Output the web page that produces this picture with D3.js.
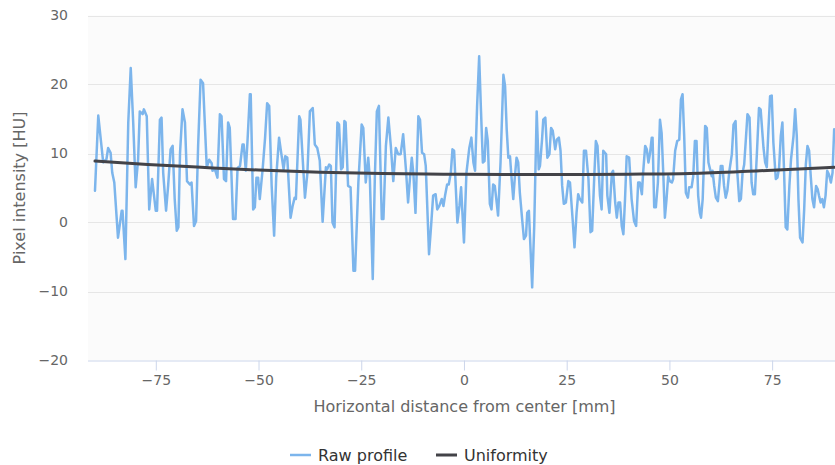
<!DOCTYPE html>
<html><head><meta charset="utf-8">
<script src="https://cdn.jsdelivr.net/npm/d3@7/dist/d3.min.js"></script>
<style>body{margin:0;background:#fff}svg{display:block}text{font-family:"DejaVu Sans",sans-serif}</style>
</head><body><svg id="c" width="835" height="465"></svg>
<script>
// Raw profile: horizontal position [mm] and pixel intensity [HU]
const profileX = [-89.8,-89.0,-87.8,-87.0,-86.6,-86.0,-85.6,-85.1,-84.2,-83.3,-83.1,-82.4,-81.7,-81.1,-80.5,-79.9,-79.3,-78.9,-78.2,-77.9,-77.2,-76.6,-75.9,-75.0,-74.7,-74.0,-73.6,-73.2,-72.5,-72.0,-71.4,-70.9,-70.4,-69.9,-69.5,-69.1,-68.5,-67.9,-67.4,-66.7,-66.3,-65.7,-65.2,-64.7,-64.1,-63.5,
-62.6,-62.0,-61.4,-61.2,-60.6,-60.0,-59.4,-59.0,-58.4,-57.9,-57.4,-57.0,-56.2,-55.6,-55.1,-54.5,-53.9,-53.6,-53.1,-52.7,-52.1,-51.9,-51.3,-50.9,-50.5,-50.1,-49.7,-49.0,-48.4,-47.9,-47.4,-46.8,-46.2,-45.7,-45.0,-44.6,-43.9,-43.5,-43.0,-42.2,-41.7,-41.2,-40.9,-40.1,-39.8,-38.7,-38.1,-37.5,-36.8,-36.3,-35.7,-35.1,
-34.4,-33.6,-33.3,-32.8,-32.4,-32.0,-31.5,-30.8,-30.4,-29.9,-29.5,-29.1,-28.8,-28.2,-27.6,-26.9,-26.5,-25.7,-24.9,-24.5,-23.9,-23.3,-22.9,-22.2,-21.7,-21.2,-20.7,-20.0,-19.6,-19.0,-18.4,-17.8,-17.2,-16.6,-16.0,-15.4,-14.8,-14.1,-13.6,-13.1,-12.7,-12.3,-11.8,-11.1,-10.7,-10.2,-9.7,-9.3,-8.5,-8.0,-7.5,-6.9,-6.5,-6.0,
-5.4,-5.0,-4.6,-4.1,-3.7,-3.2,-2.8,-2.4,-1.6,-1.1,-0.7,0.0,0.6,1.3,1.8,2.3,2.7,3.2,3.7,4.1,4.6,5.0,5.4,5.8,6.3,6.7,7.1,7.5,8.0,8.3,8.9,9.6,10.0,10.4,10.8,11.2,11.6,12.0,12.4,12.8,13.2,13.6,14.2,14.6,15.1,15.4,15.8,16.6,17.1,17.7,18.2,18.5,19.0,19.3,19.8,20.3,20.8,21.2,21.6,21.9,22.2,22.6,23.1,23.5,23.9,24.3,24.8,
25.4,25.8,26.5,26.9,27.4,27.8,28.2,28.8,29.2,29.7,30.3,30.8,31.2,31.7,32.1,32.5,33.1,33.5,33.9,34.6,34.9,35.4,36.0,36.3,36.8,37.2,37.6,38.0,38.4,38.8,39.2,39.6,40.2,40.8,41.4,41.9,42.4,42.8,43.3,43.6,44.1,44.5,44.9,45.3,45.7,45.9,46.3,46.7,47.2,47.7,48.1,48.5,48.9,49.3,49.7,50.1,50.6,50.9,51.4,51.9,52.4,52.8,53.2,53.6,54.0,54.5,54.8,55.4,55.8,56.2,56.6,57.0,57.4,
57.7,58.1,58.7,59.1,59.5,59.9,60.3,60.5,60.9,61.3,61.8,62.2,62.5,62.9,63.3,63.7,64.1,64.6,65.2,65.6,66.1,66.5,67.0,67.4,67.8,68.2,68.6,69.0,69.5,70.0,70.4,70.8,71.3,71.8,72.2,72.9,73.3,73.7,74.1,74.5,74.9,75.3,75.9,76.3,76.7,77.1,77.5,77.9,78.3,78.7,79.2,79.6,80.2,80.6,81.0,81.4,81.8,82.4,82.8,83.2,83.6,84.0,84.4,84.8,85.2,85.7,86.1,86.4,86.8,87.2,87.6,88.0,88.4,88.8,89.3,89.7,90.1];
const profileY = [4.6,15.5,8.7,9.2,10.8,10.1,7.2,5.8,-2.2,1.7,1.7,-5.3,14.5,22.4,14.5,5.1,9.2,16.1,15.7,16.4,15.4,1.9,6.3,1.7,1.7,14.9,15.2,7.2,1.7,5.3,10.6,11.1,3.4,-1.2,-0.7,10.1,16.4,14.5,6.0,5.5,5.8,-0.5,0.2,11.1,20.7,20.2,
8.0,9.1,8.6,7.5,7.7,6.5,15.7,15.4,6.3,6.0,14.5,13.7,0.5,0.5,7.9,8.2,11.3,11.3,7.5,11.6,18.6,18.6,1.9,2.2,6.5,6.5,3.4,7.7,12.3,17.3,16.9,5.3,-1.9,6.5,12.3,10.6,7.7,9.6,9.4,0.7,2.4,3.6,3.4,15.4,14.9,3.6,7.2,16.1,16.6,11.3,10.8,9.0,
0.1,8.0,7.7,8.4,8.2,0.0,-0.7,14.5,14.2,7.7,8.0,14.7,14.5,5.3,5.1,-7.0,-7.0,5.8,14.2,13.7,5.8,9.4,6.3,-8.2,6.3,16.1,16.9,0.5,0.5,11.1,15.2,11.1,6.0,10.8,9.9,9.9,12.8,7.5,2.9,6.7,9.4,7.0,1.4,15.4,14.9,10.1,9.9,8.2,-4.6,-0.5,3.9,4.1,1.9,2.4,
3.4,2.4,3.9,5.5,5.5,7.2,10.6,10.4,0.0,2.4,5.1,-2.9,7.2,10.8,12.3,8.7,7.5,16.9,24.1,16.9,8.7,8.9,13.7,11.8,2.7,1.9,5.5,5.3,2.7,1.0,8.7,21.4,19.8,13.5,9.4,9.6,6.3,3.4,6.7,9.4,8.7,4.3,0.2,-2.4,-1.9,1.4,1.7,-9.4,-0.5,16.1,7.7,8.2,12.0,14.9,15.2,9.4,9.9,13.7,13.3,12.0,10.6,12.0,12.3,10.4,5.3,2.7,2.9,
6.0,5.8,0.0,-3.6,1.4,4.1,3.4,2.9,10.4,10.4,6.3,-1.4,-1.2,6.5,11.8,11.1,3.9,1.9,10.4,9.9,3.9,1.4,7.2,7.5,2.9,0.7,2.9,2.9,-0.5,-1.7,3.4,9.6,9.4,3.4,0.2,-0.5,5.8,5.8,4.1,7.2,11.1,10.6,8.7,10.1,12.3,12.3,2.2,2.2,5.8,14.9,13.0,7.2,0.7,3.4,6.7,6.0,5.8,6.3,10.4,11.8,12.0,17.8,18.6,12.5,4.3,3.6,5.1,5.1,6.7,11.8,11.8,3.9,1.4,
0.7,3.4,14.0,13.7,8.7,7.7,6.7,7.5,5.3,3.6,3.1,5.8,8.2,8.2,5.3,3.6,4.6,7.5,9.9,14.2,14.7,7.5,3.1,3.4,7.2,8.4,12.0,15.7,15.2,5.8,4.1,4.1,10.1,16.6,16.4,10.8,8.7,8.0,13.5,18.3,18.4,11.6,6.3,6.5,8.0,12.5,14.5,7.5,-0.7,-1.0,5.3,9.2,12.5,16.4,12.5,3.4,-2.2,-2.9,1.9,8.4,11.1,10.4,6.7,3.4,2.2,5.3,4.8,3.9,2.9,3.4,2.2,3.9,7.5,7.0,5.8,7.2,13.5];

// Uniformity fit
const uniformX = [-89.8,-77,-64,-50,-35,-20,-5,10,25,40,55,72,90.1];
const uniformY = [8.9,8.4,8.0,7.6,7.3,7.1,7.0,6.95,6.95,7.0,7.1,7.5,8.0];

const xTicks = [-75,-50,-25,0,25,50,75];
const yTicks = [-20,-10,0,10,20,30];
const seriesNames = ["Raw profile","Uniformity"];
const seriesColors = ["#7cb5ec","#434348"];

const svg = d3.select("#c");
const L=88, R=835, T=15.5, B=360.5;
const x = d3.scaleLinear().domain([-91.5,90.3]).range([L,R]);
const y = d3.scaleLinear().domain([-20,30]).range([B,T]);

svg.append("rect").attr("x",L).attr("y",T).attr("width",R-L).attr("height",B-T).attr("fill","#fbfbfb");

// grid
svg.append("g").selectAll("line").data(yTicks.filter(d=>d!==-20)).join("line")
  .attr("x1",L).attr("x2",R).attr("y1",d=>Math.round(y(d))+0.5).attr("y2",d=>Math.round(y(d))+0.5)
  .attr("stroke","#e6e6e6").attr("stroke-width",1);

// y axis labels
const yAxis = d3.axisLeft(y).tickValues(yTicks).tickSize(0).tickPadding(0)
  .tickFormat(d=>d<0?"\u2212"+Math.abs(d):d);
const gy = svg.append("g").attr("transform",`translate(68,0)`).call(yAxis);
gy.select(".domain").remove();
gy.selectAll("text").attr("font-size",14).attr("fill","#666").attr("font-family","DejaVu Sans");

// x axis
const xAxis = d3.axisBottom(x).tickValues(xTicks).tickSize(10).tickPadding(5)
  .tickFormat(d=>d<0?"\u2212"+Math.abs(d):d);
const gx = svg.append("g").attr("transform",`translate(0,${B})`).call(xAxis);
gx.select(".domain").attr("stroke","#ccd6eb").attr("d",`M${L},0.5H${R}`);
gx.selectAll(".tick line").attr("stroke","#ccd6eb");
gx.selectAll("text").attr("font-size",14).attr("fill","#666").attr("font-family","DejaVu Sans");

// titles
svg.append("text").attr("x",(L+R)/2+3).attr("y",412).attr("text-anchor","middle")
  .attr("font-size",16).attr("fill","#666").text("Horizontal distance from center [mm]");
svg.append("text").attr("transform",`translate(24.5,${(T+B)/2}) rotate(-90)`).attr("text-anchor","middle")
  .attr("font-size",16).attr("fill","#666").text("Pixel intensity [HU]");

// lines
const clip = svg.append("clipPath").attr("id","pc").append("rect").attr("x",L).attr("y",0).attr("width",R-L).attr("height",B+5);
const rawData = profileX.map((v,i)=>[v,profileY[i]]);
const uniData = uniformX.map((v,i)=>[v,uniformY[i]]);
const line = d3.line().x(d=>x(d[0])).y(d=>y(d[1]));
const sline = d3.line().x(d=>x(d[0])).y(d=>y(d[1])).curve(d3.curveMonotoneX);
svg.append("path").datum(rawData).attr("d",line).attr("fill","none").attr("stroke",seriesColors[0])
  .attr("stroke-width",2.5).attr("stroke-linejoin","round").attr("stroke-linecap","round").attr("clip-path","url(#pc)");
svg.append("path").datum(uniData).attr("d",sline).attr("fill","none").attr("stroke",seriesColors[1])
  .attr("stroke-width",3).attr("stroke-linecap","round").attr("clip-path","url(#pc)");

// legend
const lg = svg.append("g");
const lx = [290,436];
seriesNames.forEach((n,i)=>{
  lg.append("line").attr("x1",lx[i]).attr("x2",lx[i]+21).attr("y1",455).attr("y2",455)
    .attr("stroke",seriesColors[i]).attr("stroke-width",i?3:2.5);
  lg.append("text").attr("x",lx[i]+28).attr("y",461).attr("font-size",16).attr("fill","#333").text(n);
});
</script></body></html>
